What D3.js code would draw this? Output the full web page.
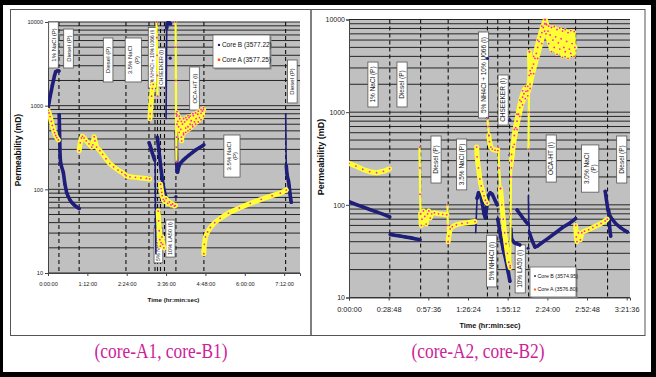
<!DOCTYPE html>
<html>
<head>
<meta charset="utf-8">
<script src="https://cdn.jsdelivr.net/npm/d3@7"></script>
<style>
body { margin: 0; background: #000; }
svg { display: block; font-family: "Liberation Sans", Arial, sans-serif; }
</style>
</head>
<body>
<div id="chart"></div>
<script>
// ---------- data (time in minutes, permeability in mD) ----------

const yTicks = [10, 100, 1000, 10000];

// left chart (core-A1, core-B1)
const xTicks1 = ["0:00:00", "1:12:00", "2:24:00", "3:36:00", "4:48:00", "6:00:00", "7:12:00"];
const names1 = ["Core B (3577.22)", "Core A (3577.25)"];
const stages1 = [20, 57, 142.6, 184.7, 195.7, 200.3, 205.8, 213.1, 234, 285.2, 434.7];

const coreB1 = [
  [[0,950],[2,1100],[4,1300],[6,1500],[8,1750],[10,2000],[12,2300],[14,2550],[17,2600],[20,2600]],
  [[20.5,780],[21,520],[21.5,380],[22,260],[23,210],[25,185],[28,160],[31,115],[34,92],[37,82],[40,75],[44,69],[48,65],[52,62],[57,59]],
  [[185,360],[187,330],[189,300],[191,270],[193,245],[195,225]],
  [[200,420],[202,330],[204,250],[206,190],[208,150],[210,120],[212,100],[214,88],[216,80]],
  [[217.2,8500],[218,9600],[220,10000],[222,9800],[224,9500]],
  [[234.5,480],[235,300],[235.5,200],[236,170],[237,160],[238,172],[240,192],[243,208],[247,222],[252,238],[258,256],[264,275],[270,295],[276,312],[282,328],[285,340]],
  [[436,190],[437,155],[438,142],[440,125],[441,112],[442,98],[443,86],[444,76],[445,70]]
];
// fast jumps, drawn thin
const coreB1jumps = [
  [[196,215],[196.3,120],[196.6,60],[197,32],[197.4,17]],
  [[216,700],[216.3,1200],[216.6,2500],[216.9,5000],[217.2,8500]],
  [[434.8,800],[435,600],[435.3,400],[435.6,260],[436,190]]
];
const coreB1dots = [[223.5,3700],[234,82]];

const coreA1 = [
  [[0,880],[2,820],[4,740],[6,650],[8,580],[10,520],[12,475],[14,440],[16,415],[19,390]],
  [[57,290],[59,360],[61,410],[63,430],[66,410],[70,380],[75,350],[80,320],[82,340],[84.5,425],[86,380],[89,320],[95,290],[100,262],[106,232],[113,203],[120,186],[128,170],[135,160],[141,150]],
  [[143,145],[150,141],[160,139],[170,137],[180,135],[186,133]],
  [[186.5,700],[187,800],[188,1000],[189.5,1300],[191,1600],[192.5,1800]],
  [[201.5,55],[202.5,42],[203.5,32],[204.5,25],[205.5,21],[207,23],[208.5,27],[210,22],[212,20]],
  [[206,115],[207,102],[208,92],[209,84],[211,76],[213,72],[216,78],[219,68],[222,71],[225,65],[228,67],[231,63],[233,64]],
  [[236,780],[237.5,650],[239,560],[241,700],[243,520],[244.5,380],[246,600],[248,470],[250,640],[252,540],[254,680],[256,560],[258,720],[260,600],[262,660],[264,590],[266,760],[268,640],[271,700],[274,790],[277,720],[280,810],[282.5,860],[284.5,900]],
  [[285,17],[286,22],[288,27],[292,31],[297,35],[305,40],[315,45],[330,52],[350,60],[370,68],[390,76],[410,84],[425,90],[436,98]]
];
const coreA1jumps = [
  [[198.5,10000],[199,6500],[199.5,4000],[200,2300],[200.5,1300]],
  [[233.5,10000],[233.8,5000],[234,2000],[234.3,800],[234.6,320],[234.9,215],[235.2,420],[235.5,750]]
];
// scattered band: time, low, high
const coreA1band = [
  [236,600,850],[240,480,750],[244,420,650],[248,450,700],[252,480,720],[256,500,760],
  [260,520,750],[265,560,800],[270,600,820],[275,640,860],[280,680,900],[284.5,750,950]
];

// stage notes: text lines, time, top value, bottom value
const notes1 = [
  [["1% NaCl (P)"], 10, 10000, 2820],
  [["Diesel (P)"], 37.5, 8240, 2820],
  [["Diesel (P)"], 110, 6440, 1920],
  [["3.5% NaCl", "(P)"], 156, 6440, 1920],
  [["5% NH4Cl + 10% U066 (I)"], 191, 8600, 1625],
  [["CHSEEKER (I)"], 207, 4900, 1670],
  [["OCA-HT (I)"], 268, 2900, 887],
  [["3.5% NaCl", "(P)"], 336.5, 446, 140],
  [["Diesel (P)"], 447, 3515, 1077],
  [["5% NH4Cl (I)"], 202, 34.5, 13.2],
  [["10% LA50 (I)"], 224, 43, 15.5]
];

// right chart (core-A2, core-B2)
const xTicks2 = ["0:00:00", "0:28:48", "0:57:36", "1:26:24", "1:55:12", "2:24:00", "2:52:48", "3:21:36"];
const names2 = ["Core B (3574.95)", "Core A (3576.80)"];
const stages2 = [29.6, 52, 72, 100.5, 108, 116.6, 130.4, 164.5, 187.7];

const coreB2 = [
  [[0,108],[5,101],[10,95],[15,89],[20,84],[25,79],[29.5,74]],
  [[30,48],[33,47],[37,46],[41,45],[45,44],[48,43],[51.5,42]],
  [[93,118],[94,135],[95.5,128],[97,100],[98,80],[99,72],[100,95],[101,125],[102.5,135],[104,130],[106,112],[107.5,100]],
  [[108,70],[110,46],[112,33],[114,25],[115.5,19],[116.8,15]],
  [[117.5,55],[118,43],[120,39],[122,38],[124,37]],
  [[122,88],[124,80],[126,73],[128,67],[130,62]],
  [[131,50],[133,41],[135,35],[137,36],[140,39],[145,44],[150,50],[155,57],[160,63],[164.5,71]],
  [[186,140],[187,110],[188,88],[189,78],[191,70],[194,62],[197,57],[200,53],[202,51]],
  [[188.5,88],[189,65],[189.5,52],[190,46]]
];
const coreB2jumps = [
  [[92,50],[92.5,80],[93,118]],
  [[130.2,125],[130.5,70],[131,50]]
];
const coreB2dots = [[100.5,3800],[100.5,860],[116.8,820],[116.8,344],[130,34]];

const coreA2 = [
  [[0,280],[5,262],[10,242],[15,228],[20,222],[25,230],[29.5,245]],
  [[52,80],[52.5,60],[53,70],[54,86],[55,75],[56,62],[57,80],[58,86],[59,72],[60,80],[62,82],[65,80],[68,79],[71,78]],
  [[72,40],[72.5,46],[73.5,55],[75,58],[78,61],[82,63],[86,64],[91.5,66]],
  [[92.7,420],[93,330],[94,250],[95,190],[96,160],[97,140],[98,125],[99,112],[100.3,104]],
  [[101.5,560],[102,480],[103,420],[104,400],[106,390],[108,385]],
  [[110,150],[111,100],[112,70],[113,50],[114,38],[115,30],[116,24],[117,21]],
  [[118,300],[119,420],[120,560],[121,680],[122,800],[123,950],[124,1120],[125,1300],[126,1450],[127,1580],[128.5,1680],[129.8,1700]],
  [[131,4500],[131.5,2000],[132,2600],[133,3000],[134,3300],[135,3800],[136,4300],[137,5000],[138,5800],[139,6500],[140,7200],[141,8200],[142,9000],[142.5,10000],[143.5,8800],[144.5,7500],[146,6800],[148,6000],[150,6500],[152,5600],[154,6200],[156,5000],[158,5800],[160,4800],[162,5500],[164,5000]],
  [[164.6,60],[165,45],[165.5,40],[166.5,50],[168,42],[169,50],[171,52],[174,54],[177,57],[180,60],[183,63],[186,67],[187.5,70]]
];
const coreA2jumps = [
  [[51.2,420],[51.4,250],[51.6,130],[52,80]],
  [[71.5,100],[71.8,60],[72,40]],
  [[100.5,850],[101,700],[101.5,560]],
  [[108.5,420],[109,250],[110,150]],
  [[117,22],[117.3,80],[117.6,200],[118,300]],
  [[130.3,400],[130.5,1000],[130.8,2500],[131,4500]]
];
const coreA2band = [
  [118,250,350],[120,450,650],[122,650,950],[124,900,1350],[126,1200,1700],[128,1400,1900],[129.8,1500,1900],
  [131.5,1800,2800],[134,2600,4000],[137,3800,6000],[140,5500,8500],[142,7500,10000],[143,7000,9000],
  [145,5500,8500],[147,4500,8200],[149,5000,8400],[151,4200,7800],[153,4800,8100],[155,3900,7500],
  [157,4500,7800],[159,3800,7200],[161,4300,7600],[163.5,4000,7400]
];

const notes2 = [
  [["1% NaCl (P)"], 17.4, 3475, 1138],
  [["Diesel (P)"], 38.5, 3475, 1138],
  [["Diesel (P)"], 63.2, 553, 172],
  [["3.5% NaCl (P)"], 81.8, 513, 145],
  [["5% NH4Cl + 10% U066 (I)"], 97.7, 7330, 865],
  [["CHSEEKER (I)"], 111.9, 2518, 726],
  [["OCA-HT (I)"], 146.8, 567, 176],
  [["3.0% NaCl", "(P)"], 175.1, 443, 137],
  [["Diesel (P)"], 198, 553, 172],
  [["5% NH4Cl (I)"], 103.6, 47, 13],
  [["10% LA50 (I)"], 124.3, 37, 11.2]
];

const captions = ["(core-A1, core-B1)", "(core-A2, core-B2)"];

// ---------- drawing ----------
const navy = "#1f1f7a", yellow = "#ffff33", pink = "#ff22cc";

const svg = d3.select("#chart").append("svg")
    .attr("width", 656)
    .attr("height", 377);

// black frame and white page
svg.append("rect").attr("width", 656).attr("height", 377).attr("fill", "#000");
svg.append("rect").attr("x", 3).attr("y", 5).attr("width", 648).attr("height", 367).attr("fill", "#fff");

// the two panel frames
svg.append("rect").attr("x", 10.5).attr("y", 9.5).attr("width", 300.5).attr("height", 326)
    .attr("fill", "none").attr("stroke", "#555");
svg.append("rect").attr("x", 311).attr("y", 9.5).attr("width", 334).attr("height", 326)
    .attr("fill", "none").attr("stroke", "#555");

function drawPanel(p) {
  const x = d3.scaleLinear().domain([0, p.tMax]).range([p.left, p.right]);
  const y = d3.scaleLog().domain([10, 10000]).range([p.bottom, p.top]);
  const g = svg.append("g");

  g.append("rect")
      .attr("x", p.left).attr("y", p.top)
      .attr("width", p.right - p.left).attr("height", p.bottom - p.top)
      .attr("fill", "#c0c0c0");

  // log gridlines
  g.append("g").selectAll("line")
    .data(y.ticks())
    .join("line")
      .attr("x1", p.left).attr("x2", p.right)
      .attr("y1", d => y(d)).attr("y2", d => y(d))
      .attr("stroke", "#262626").attr("stroke-width", 1);

  // stage changes
  g.append("g").selectAll("line")
    .data(p.stages)
    .join("line")
      .attr("x1", d => x(d)).attr("x2", d => x(d))
      .attr("y1", p.top).attr("y2", p.bottom)
      .attr("stroke", "#111").attr("stroke-width", 1.1)
      .attr("stroke-dasharray", "4,3");

  // axes
  g.append("g")
      .attr("transform", `translate(0,${p.bottom})`)
      .call(d3.axisBottom(x)
        .tickValues(p.xTicks.map((d, i) => i * p.tStep))
        .tickFormat((d, i) => p.xTicks[i])
        .tickSize(3).tickPadding(p.xPad))
      .call(a => a.selectAll("text").attr("font-size", p.tickFont).attr("fill", "#222")
        .attr("font-family", "Liberation Sans, Arial, sans-serif"))
      .call(a => a.selectAll("line,path").attr("stroke", "#444"));

  g.append("g")
      .attr("transform", `translate(${p.left},0)`)
      .call(d3.axisLeft(y).tickValues(yTicks).tickFormat(d3.format("d"))
        .tickSize(3).tickPadding(p.yPad))
      .call(a => a.selectAll("text").attr("font-size", p.yTickFont).attr("fill", "#222")
        .attr("font-family", "Liberation Sans, Arial, sans-serif"))
      .call(a => a.selectAll("line,path").attr("stroke", "#444"));

  // stage notes
  p.notes.forEach(([lines, t, vTop, vBot]) => {
    const yt = y(vTop), yb = y(vBot), h = yb - yt;
    const ng = g.append("g");
    const rect = ng.append("rect").attr("fill", "#fff").attr("stroke", "#555").attr("stroke-width", 0.8);
    const tg = ng.append("g").attr("transform", `translate(${x(t)},${(yt + yb) / 2}) rotate(-90)`);
    let fs = p.noteFont;
    const txt = tg.selectAll("text").data(lines).join("text")
        .attr("text-anchor", "middle")
        .attr("font-size", fs)
        .attr("fill", "#222")
        .text(d => d);
    const longest = d3.max(txt.nodes(), n => n.getComputedTextLength());
    if (longest > h - 4) fs = fs * (h - 4) / longest;
    const lh = fs * 1.1;
    txt.attr("font-size", fs)
       .attr("y", (d, i) => (i - (lines.length - 1) / 2) * lh + fs * 0.35);
    const w = lines.length * lh + 3;
    rect.attr("x", x(t) - w / 2).attr("y", yt).attr("width", w).attr("height", h);
  });

  // data
  const clipId = "clip" + p.id;
  g.append("clipPath").attr("id", clipId).append("rect")
      .attr("x", p.left).attr("y", p.top - 1)
      .attr("width", p.right - p.left).attr("height", p.bottom - p.top + 1);
  const dg = g.append("g").attr("clip-path", `url(#${clipId})`);
  const line = d3.line().x(d => x(d[0])).y(d => y(d[1]));
  const area = d3.area().x(d => x(d[0])).y0(d => y(d[1])).y1(d => y(d[2]));

  function drawSegs(segs, color, width) {
    dg.append("g").selectAll("path")
      .data(segs)
      .join("path")
        .attr("d", line)
        .attr("fill", "none").attr("stroke", color).attr("stroke-width", width)
        .attr("stroke-linejoin", "round").attr("stroke-linecap", "round");
  }
  function drawDots(pts, color, r) {
    dg.append("g").selectAll("circle")
      .data(pts)
      .join("circle")
        .attr("cx", d => x(d[0])).attr("cy", d => y(d[1]))
        .attr("r", r).attr("fill", color);
  }

  // Core B
  drawSegs(p.coreB, navy, p.bWidth);
  drawSegs(p.coreBjumps, navy, 1.6);
  drawDots(p.coreB.flat().concat(p.coreBdots), navy, 1.6);

  // Core A
  dg.append("path").datum(p.coreAband)
      .attr("d", area)
      .attr("fill", yellow).attr("stroke", yellow).attr("stroke-width", 3)
      .attr("stroke-linejoin", "round");
  drawSegs(p.coreA, yellow, p.aWidth);
  drawSegs(p.coreAjumps, yellow, 2.2);
  drawDots(p.coreA.flat().concat(p.coreAjumps.flat()), pink, 0.9);
  drawDots(p.coreAband.map(d => [d[0], d[1]]).concat(p.coreAband.map(d => [d[0], d[2]])), pink, 0.9);

  // legend
  const L = p.legend;
  g.append("rect").attr("x", L.x + 1.5).attr("y", L.y + 1.5).attr("width", L.w).attr("height", L.h).attr("fill", "#888");
  g.append("rect").attr("x", L.x).attr("y", L.y).attr("width", L.w).attr("height", L.h)
      .attr("fill", "#fff").attr("stroke", "#666").attr("stroke-width", 0.8);
  const li = g.append("g").selectAll("g").data(p.names).join("g")
      .attr("transform", (d, i) => `translate(${L.x + L.mx},${L.y + L.h * (i === 0 ? 0.3 : 0.75)})`);
  li.filter((d, i) => i === 1).append("circle").attr("r", L.fs * 0.3).attr("fill", yellow);
  li.append("circle").attr("r", L.fs * 0.18).attr("fill", (d, i) => i === 0 ? navy : pink);
  li.append("text").attr("x", L.fs * 0.45).attr("dy", "0.35em")
      .attr("font-size", L.fs).attr("fill", "#111").text(d => d);

  // axis titles
  g.append("text")
      .attr("transform", `translate(${p.yTitle[0]},${p.yTitle[1]}) rotate(-90)`)
      .attr("text-anchor", "middle").attr("font-weight", "bold")
      .attr("font-size", p.yTitle[2]).attr("fill", "#111")
      .text("Permeability (mD)");
  g.append("text")
      .attr("x", p.xTitle[0]).attr("y", p.xTitle[1])
      .attr("text-anchor", "middle").attr("font-weight", "bold")
      .attr("font-size", p.xTitle[2]).attr("fill", "#111")
      .text("Time (hr:min:sec)");

  // caption
  svg.append("text")
      .attr("x", p.caption[0]).attr("y", p.caption[1])
      .attr("text-anchor", "middle")
      .style("font-family", "'Liberation Serif', 'Times New Roman', serif")
      .attr("font-size", 20).attr("fill", "#cc2299")
      .attr("textLength", 133).attr("lengthAdjust", "spacingAndGlyphs")
      .text(p.captionText);
}

drawPanel({
  id: 1, left: 48, right: 300, top: 22, bottom: 273, tMax: 461, tStep: 72,
  xTicks: xTicks1, stages: stages1, notes: notes1,
  coreB: coreB1, coreBjumps: coreB1jumps, coreBdots: coreB1dots,
  coreA: coreA1, coreAjumps: coreA1jumps, coreAband: coreA1band, names: names1,
  tickFont: 5.6, yTickFont: 5.6, xPad: 6, yPad: 2, noteFont: 6,
  bWidth: 3.6, aWidth: 5,
  legend: {x: 213, y: 35, w: 57, h: 33, mx: 6, fs: 6.5},
  yTitle: [21, 150, 8.5], xTitle: [173.5, 302, 6.2],
  caption: [161, 358], captionText: captions[0]
});

drawPanel({
  id: 2, left: 349, right: 630, top: 19.5, bottom: 297.5, tMax: 204, tStep: 28.8,
  xTicks: xTicks2, stages: stages2, notes: notes2,
  coreB: coreB2, coreBjumps: coreB2jumps, coreBdots: coreB2dots,
  coreA: coreA2, coreAjumps: coreA2jumps, coreAband: coreA2band, names: names2,
  tickFont: 7.4, yTickFont: 7, xPad: 6, yPad: 1, noteFont: 6.5,
  bWidth: 3.6, aWidth: 5,
  legend: {x: 530, y: 267, w: 46, h: 30, mx: 5, fs: 5.3},
  yTitle: [324, 157, 9], xTitle: [490, 328, 7.3],
  caption: [478, 358], captionText: captions[1]
});
</script>
</body>
</html>
